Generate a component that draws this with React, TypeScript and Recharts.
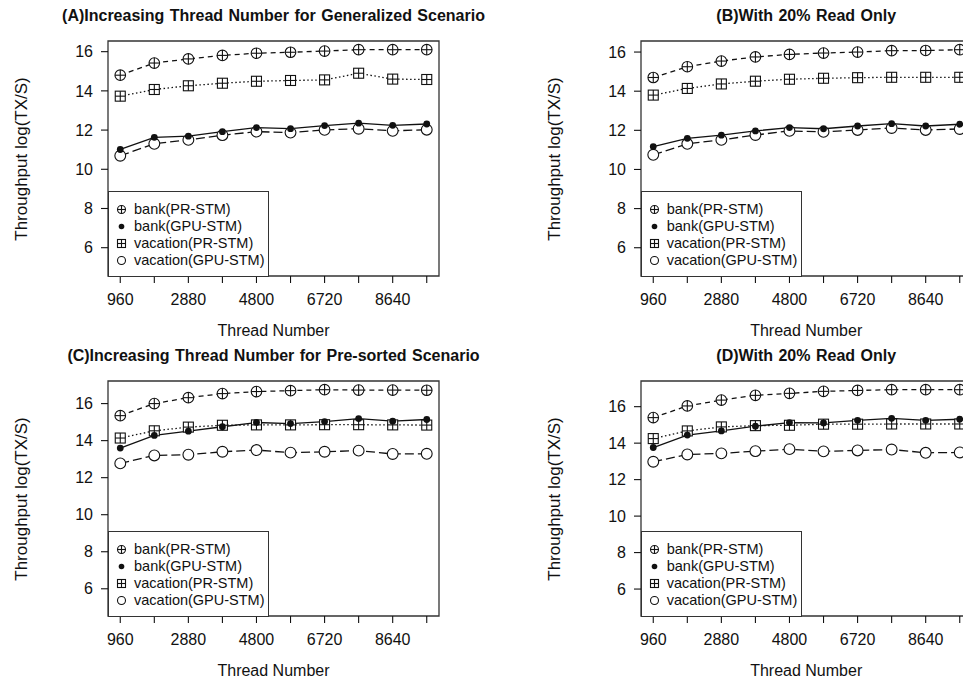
import React from 'react';
import { LineChart, Line, XAxis, YAxis, ReferenceArea } from 'recharts';

// thread counts on the x axis
const threads = [960, 1920, 2880, 3840, 4800, 5760, 6720, 7680, 8640, 9600];
const xTickLabels = [960, 2880, 4800, 6720, 8640];
const yTicks = [6, 8, 10, 12, 14, 16];
const yFloor = 5;

// (A) generalized scenario
const aBankPR = [14.8, 15.42, 15.63, 15.81, 15.92, 15.97, 16.03, 16.1, 16.1, 16.1];
const aBankGPU = [11.01, 11.63, 11.69, 11.92, 12.13, 12.07, 12.23, 12.35, 12.24, 12.31];
const aVacPR = [13.73, 14.07, 14.26, 14.39, 14.49, 14.53, 14.56, 14.9, 14.6, 14.58];
const aVacGPU = [10.69, 11.3, 11.5, 11.74, 11.92, 11.87, 12.01, 12.07, 11.96, 12.02];

// (B) generalized, 20% read only
const bBankPR = [14.7, 15.25, 15.54, 15.75, 15.88, 15.95, 16.0, 16.07, 16.08, 16.12];
const bBankGPU = [11.17, 11.59, 11.75, 11.97, 12.14, 12.08, 12.22, 12.34, 12.22, 12.31];
const bVacPR = [13.8, 14.14, 14.37, 14.51, 14.61, 14.66, 14.69, 14.71, 14.71, 14.71];
const bVacGPU = [10.75, 11.31, 11.51, 11.76, 11.97, 11.92, 12.02, 12.12, 12.02, 12.07];

// (C) pre-sorted scenario
const cBankPR = [15.35, 16.0, 16.32, 16.54, 16.65, 16.7, 16.75, 16.73, 16.73, 16.72];
const cBankGPU = [13.6, 14.28, 14.51, 14.75, 14.98, 14.92, 15.03, 15.19, 15.05, 15.14];
const cVacPR = [14.14, 14.53, 14.73, 14.83, 14.85, 14.85, 14.86, 14.86, 14.85, 14.84];
const cVacGPU = [12.77, 13.2, 13.24, 13.4, 13.49, 13.35, 13.4, 13.46, 13.28, 13.29];

// (D) pre-sorted, 20% read only
const dBankPR = [15.4, 16.04, 16.36, 16.62, 16.73, 16.84, 16.89, 16.93, 16.93, 16.93];
const dBankGPU = [13.76, 14.44, 14.67, 14.93, 15.13, 15.11, 15.25, 15.36, 15.25, 15.31];
const dVacPR = [14.25, 14.67, 14.89, 14.96, 14.98, 15.04, 15.04, 15.05, 15.05, 15.05];
const dVacGPU = [12.98, 13.38, 13.44, 13.56, 13.67, 13.55, 13.6, 13.65, 13.47, 13.49];

const FONT = "'Liberation Sans', Arial, sans-serif";
const INK = '#111';

const CirclePlus = ({ cx, cy, r }: any) => (
  <g>
    <circle cx={cx} cy={cy} r={r} fill="#fff" stroke={INK} strokeWidth={1.1} />
    <line x1={cx - r} x2={cx + r} y1={cy} y2={cy} stroke={INK} strokeWidth={1.1} />
    <line x1={cx} x2={cx} y1={cy - r} y2={cy + r} stroke={INK} strokeWidth={1.1} />
  </g>
);

const SquarePlus = ({ cx, cy, r }: any) => (
  <g>
    <rect x={cx - r} y={cy - r} width={2 * r} height={2 * r} fill="#fff" stroke={INK} strokeWidth={1.1} />
    <line x1={cx - r} x2={cx + r} y1={cy} y2={cy} stroke={INK} strokeWidth={1.1} />
    <line x1={cx} x2={cx} y1={cy - r} y2={cy + r} stroke={INK} strokeWidth={1.1} />
  </g>
);

const OpenCircle = ({ cx, cy, r }: any) => (
  <circle cx={cx} cy={cy} r={r} fill="#fff" stroke={INK} strokeWidth={1.1} />
);

const FilledDot = ({ cx, cy, r }: any) => <circle cx={cx} cy={cy} r={r} fill={INK} stroke="none" />;

const legendItems = [
  { label: 'bank(PR-STM)', Mark: CirclePlus, r: 4 },
  { label: 'bank(GPU-STM)', Mark: FilledDot, r: 2.8 },
  { label: 'vacation(PR-STM)', Mark: SquarePlus, r: 4 },
  { label: 'vacation(GPU-STM)', Mark: OpenCircle, r: 4 },
];

const xMin = threads[0] - 0.04 * (threads[threads.length - 1] - threads[0]);
const xMax = threads[threads.length - 1] + 0.04 * (threads[threads.length - 1] - threads[0]);

interface PanelProps {
  title: string;
  left: number;
  top: number;
  bankPR: number[];
  bankGPU: number[];
  vacPR: number[];
  vacGPU: number[];
}

function Panel({ title, left, top, bankPR, bankGPU, vacPR, vacGPU }: PanelProps) {
  const data = threads.map((t, i) => ({
    t,
    bankPR: bankPR[i],
    bankGPU: bankGPU[i],
    vacPR: vacPR[i],
    vacGPU: vacGPU[i],
  }));
  const yMax = Math.max(...bankPR, ...bankGPU, ...vacPR, ...vacGPU);
  const pad = 0.04 * (yMax - yFloor);
  const yDomain = [yFloor - pad, yMax + pad];

  return (
    <div style={{ position: 'absolute', left, top, width: 533, height: 340, fontFamily: FONT, color: INK }}>
      <div
        style={{
          position: 'absolute',
          left: 58,
          width: 431,
          top: 6,
          lineHeight: '20px',
          textAlign: 'center',
          fontWeight: 'bold',
          fontSize: 16,
          wordSpacing: 1,
          whiteSpace: 'nowrap',
        }}
      >
        {title}
      </div>
      <div
        style={{
          position: 'absolute',
          left: 22 - 120,
          top: 158.5 - 10,
          width: 240,
          lineHeight: '20px',
          textAlign: 'center',
          fontSize: 17,
          transform: 'rotate(-90deg)',
        }}
      >
        Throughput log(TX/S)
      </div>
      <div
        style={{
          position: 'absolute',
          left: 108,
          width: 331,
          top: 321,
          lineHeight: '20px',
          textAlign: 'center',
          fontSize: 16,
        }}
      >
        Thread Number
      </div>
      <div style={{ position: 'absolute', left: 0, top: 0 }}>
        <LineChart width={533} height={340} data={data} margin={{ top: 41, right: 94, bottom: 34, left: 0 }}>
          <XAxis
            dataKey="t"
            type="number"
            domain={[xMin, xMax]}
            allowDataOverflow
            ticks={threads}
            interval={0}
            tickFormatter={(v: number) => (xTickLabels.includes(v) ? String(v) : '')}
            tick={{ fontSize: 16, fill: INK, fontFamily: FONT }}
            axisLine={false}
            tickLine={{ stroke: INK, strokeWidth: 1.1 }}
            tickSize={7}
            tickMargin={11}
            height={30}
          />
          <YAxis
            type="number"
            domain={yDomain}
            allowDataOverflow
            ticks={yTicks}
            interval={0}
            tick={{ fontSize: 16, fill: INK, fontFamily: FONT }}
            axisLine={false}
            tickLine={{ stroke: INK, strokeWidth: 1.1 }}
            tickSize={7}
            tickMargin={8}
            width={108}
          />
          <ReferenceArea
            x1={xMin}
            x2={xMax}
            y1={yDomain[0]}
            y2={yDomain[1]}
            fill="none"
            stroke="#333"
            strokeWidth={1.3}
            ifOverflow="visible"
          />
          <Line
            dataKey="vacGPU"
            stroke={INK}
            strokeWidth={1.3}
            strokeDasharray="9 4"
            isAnimationActive={false}
            dot={(p: any) => <OpenCircle key={`vg${p.index}`} cx={p.cx} cy={p.cy} r={5.4} />}
          />
          <Line
            dataKey="bankPR"
            stroke={INK}
            strokeWidth={1.3}
            strokeDasharray="5 4"
            isAnimationActive={false}
            dot={(p: any) => <CirclePlus key={`bp${p.index}`} cx={p.cx} cy={p.cy} r={5.3} />}
          />
          <Line
            dataKey="vacPR"
            stroke={INK}
            strokeWidth={1.3}
            strokeDasharray="1.5 2.5"
            isAnimationActive={false}
            dot={(p: any) => <SquarePlus key={`vp${p.index}`} cx={p.cx} cy={p.cy} r={5} />}
          />
          <Line
            dataKey="bankGPU"
            stroke={INK}
            strokeWidth={1.3}
            isAnimationActive={false}
            dot={(p: any) => <FilledDot key={`bg${p.index}`} cx={p.cx} cy={p.cy} r={3.4} />}
          />
        </LineChart>
      </div>
      <div
        style={{
          position: 'absolute',
          left: 108,
          top: 190.5,
          width: 161,
          height: 86,
          boxSizing: 'border-box',
          border: '1.3px solid #333',
          background: '#fff',
        }}
      >
        {legendItems.map((item, i) => (
          <div
            key={item.label}
            style={{ position: 'absolute', left: 0, top: 9.5 + i * 17, height: 17, display: 'flex', alignItems: 'center' }}
          >
            <svg width={24} height={17} style={{ display: 'block' }}>
              <item.Mark cx={12.5} cy={8.5} r={item.r} />
            </svg>
            <span style={{ fontSize: 14.5, lineHeight: '17px', marginLeft: 1, whiteSpace: 'nowrap' }}>{item.label}</span>
          </div>
        ))}
      </div>
    </div>
  );
}

export default function App() {
  return (
    <div
      style={{
        position: 'absolute',
        left: 0,
        top: 0,
        width: 963,
        height: 682,
        overflow: 'hidden',
        background: '#fff',
      }}
    >
      <Panel
        title="(A)Increasing Thread Number for Generalized Scenario"
        left={0}
        top={0}
        bankPR={aBankPR}
        bankGPU={aBankGPU}
        vacPR={aVacPR}
        vacGPU={aVacGPU}
      />
      <Panel
        title="(B)With 20% Read Only"
        left={532.7}
        top={0}
        bankPR={bBankPR}
        bankGPU={bBankGPU}
        vacPR={bVacPR}
        vacGPU={bVacGPU}
      />
      <Panel
        title="(C)Increasing Thread Number for Pre-sorted Scenario"
        left={0}
        top={340}
        bankPR={cBankPR}
        bankGPU={cBankGPU}
        vacPR={cVacPR}
        vacGPU={cVacGPU}
      />
      <Panel
        title="(D)With 20% Read Only"
        left={532.7}
        top={340}
        bankPR={dBankPR}
        bankGPU={dBankGPU}
        vacPR={dVacPR}
        vacGPU={dVacGPU}
      />
    </div>
  );
}
